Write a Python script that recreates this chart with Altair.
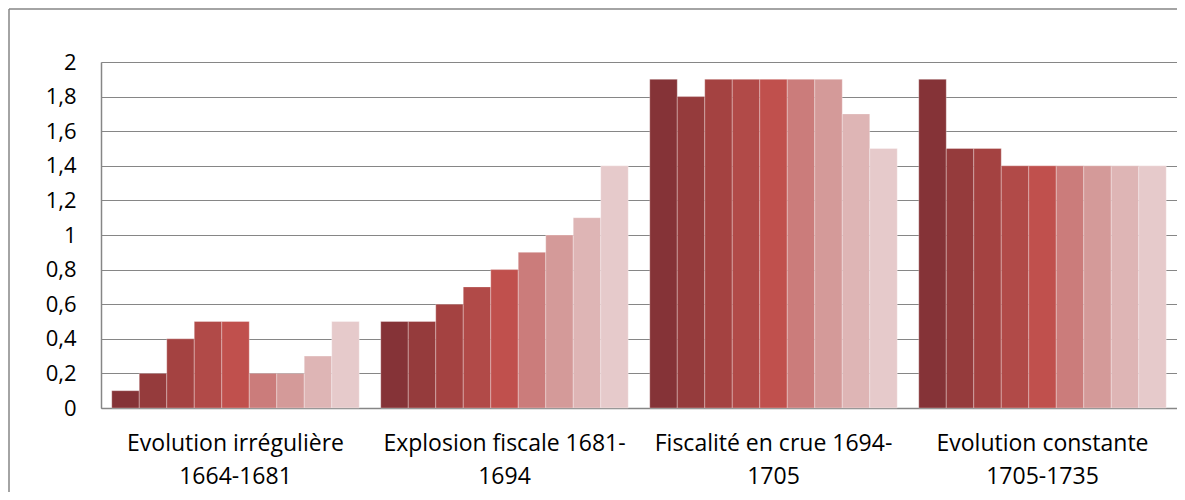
import altair as alt
import pandas as pd

groups = [
    "Evolution irrégulière\n1664-1681",
    "Explosion fiscale 1681-\n1694",
    "Fiscalité en crue 1694-\n1705",
    "Evolution constante\n1705-1735",
]
series = ["S1", "S2", "S3", "S4", "S5", "S6", "S7", "S8", "S9"]
colors = ["#853337", "#953B3C", "#A44241", "#B14A48", "#C0504D",
          "#CB7C7B", "#D49A99", "#DEB5B5", "#E6CACB"]
values_g1 = [0.1, 0.2, 0.4, 0.5, 0.5, 0.2, 0.2, 0.3, 0.5]
values_g2 = [0.5, 0.5, 0.6, 0.7, 0.8, 0.9, 1.0, 1.1, 1.4]
values_g3 = [1.9, 1.8, 1.9, 1.9, 1.9, 1.9, 1.9, 1.7, 1.5]
values_g4 = [1.9, 1.5, 1.5, 1.4, 1.4, 1.4, 1.4, 1.4, 1.4]

rows = []
for g, vals in zip(groups, [values_g1, values_g2, values_g3, values_g4]):
    for s, v in zip(series, vals):
        rows.append({"group": g, "series": s, "value": v})
df = pd.DataFrame(rows)

FONT = "Open Sans"

bars = alt.Chart(df).mark_bar(stroke="white", strokeWidth=0.6, strokeOpacity=0.5).encode(
    x=alt.X("group:N", sort=groups, title=None,
            scale=alt.Scale(paddingInner=0.08, paddingOuter=0.04),
            axis=alt.Axis(labelExpr="split(datum.label, '\\n')", labelAngle=0,
                          labelFontSize=23, labelFont=FONT, labelColor="#000000",
                          labelLineHeight=33, labelPadding=24, labelBaseline="top",
                          labelLimit=0,
                          ticks=False, domainColor="#868686", domainWidth=1.5)),
    xOffset=alt.XOffset("series:N", sort=series, scale=alt.Scale(paddingInner=0, paddingOuter=0)),
    y=alt.Y("value:Q", title=None,
            scale=alt.Scale(domain=[0, 2], nice=False),
            axis=alt.Axis(values=[0, 0.2, 0.4, 0.6, 0.8, 1, 1.2, 1.4, 1.6, 1.8, 2],
                          labelExpr="replace(format(datum.value, '.1~f'), '.', ',')",
                          labelFontSize=22, labelFont=FONT, labelColor="#000000",
                          labelPadding=25, ticks=False, grid=True,
                          gridColor="#868686", gridWidth=1.2,
                          domainColor="#868686", domainWidth=1.5)),
    color=alt.Color("series:N", sort=series,
                    scale=alt.Scale(domain=series, range=colors), legend=None),
)

frame = alt.Chart(pd.DataFrame({"k": [0]})).mark_rule(color="#868686", strokeWidth=1.5).encode(
    x=alt.value(-92), y=alt.value(-53), y2=alt.value(440)
) + alt.Chart(pd.DataFrame({"k": [0]})).mark_rule(color="#868686", strokeWidth=1.5).encode(
    x=alt.value(-92), x2=alt.value(1100), y=alt.value(-53)
)

chart = alt.layer(bars, frame).properties(
    width=1076, height=346,
    autosize=alt.AutoSizeParams(type="none"),
    padding={"left": 93, "top": 54, "right": 0, "bottom": 84},
).configure_view(stroke=None).configure(background="white")

chart.save("out.html", embed_options={"renderer": "svg", "actions": False})
